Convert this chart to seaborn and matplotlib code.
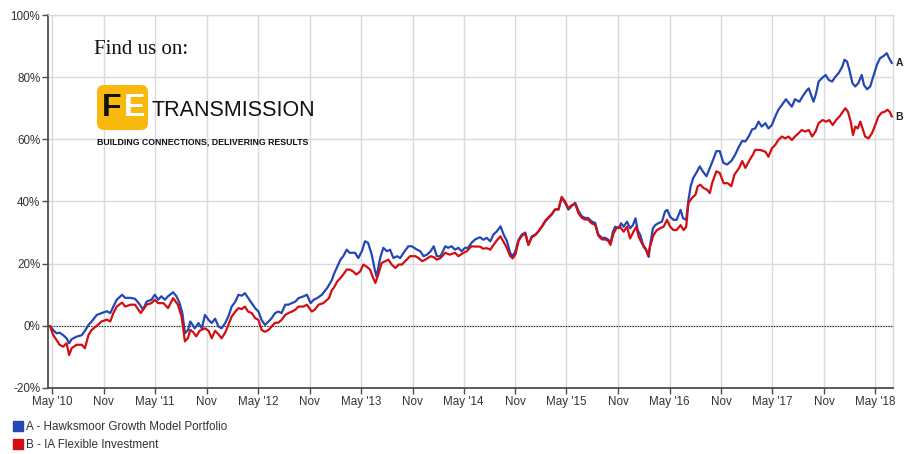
import matplotlib
matplotlib.use("Agg")
import numpy as np
import pandas as pd
import matplotlib.pyplot as plt
import matplotlib.dates as mdates
import seaborn as sns
from matplotlib.patches import FancyBboxPatch
from matplotlib.lines import Line2D
from matplotlib import font_manager as fm

# ---------------- data ----------------
dates_a = [
    "2010-04-24", "2010-05-05", "2010-05-17", "2010-05-28", "2010-06-10", "2010-06-22", "2010-07-01", "2010-07-10",
    "2010-07-27", "2010-08-15", "2010-08-26", "2010-09-08", "2010-09-19", "2010-10-07", "2010-10-24", "2010-11-12",
    "2010-11-24", "2010-12-05", "2010-12-17",
    "2011-01-05", "2011-01-16", "2011-02-04", "2011-02-20", "2011-03-09", "2011-03-20", "2011-04-02", "2011-04-19",
    "2011-05-01", "2011-05-13", "2011-05-24", "2011-06-06", "2011-06-17", "2011-07-05", "2011-07-17", "2011-07-28",
    "2011-08-07", "2011-08-16", "2011-08-27", "2011-09-04", "2011-09-20", "2011-10-03", "2011-10-15", "2011-10-26",
    "2011-11-08", "2011-11-19", "2011-12-01", "2011-12-13", "2011-12-24",
    "2012-01-06", "2012-01-17", "2012-01-29", "2012-02-11", "2012-02-22", "2012-03-05", "2012-03-16", "2012-03-27",
    "2012-04-09", "2012-04-21", "2012-05-03", "2012-05-14", "2012-05-26", "2012-06-08", "2012-06-19", "2012-07-01",
    "2012-07-12", "2012-07-24", "2012-08-06", "2012-08-17", "2012-08-30", "2012-09-11", "2012-09-22", "2012-10-10",
    "2012-10-22", "2012-11-04", "2012-11-15", "2012-11-27", "2012-12-14",
    "2013-01-02", "2013-01-19", "2013-01-25", "2013-02-07", "2013-02-18", "2013-02-28", "2013-03-12", "2013-03-23",
    "2013-04-11", "2013-04-22", "2013-05-05", "2013-05-16", "2013-05-27", "2013-06-09", "2013-06-21", "2013-06-26",
    "2013-07-09", "2013-07-20", "2013-08-02", "2013-08-13", "2013-08-25", "2013-09-07", "2013-09-18", "2013-09-30",
    "2013-10-17", "2013-10-29", "2013-11-17", "2013-11-28", "2013-12-10", "2013-12-22",
    "2014-01-04", "2014-01-15", "2014-01-26", "2014-02-08", "2014-02-25", "2014-03-07", "2014-03-19", "2014-04-01",
    "2014-04-12", "2014-04-24", "2014-05-06", "2014-05-17", "2014-05-29", "2014-06-11", "2014-06-28", "2014-07-10",
    "2014-07-22", "2014-08-04", "2014-08-15", "2014-08-27", "2014-09-09", "2014-09-20", "2014-10-02", "2014-10-13",
    "2014-10-22", "2014-11-01", "2014-11-12", "2014-11-24", "2014-12-06", "2014-12-17", "2014-12-29",
    "2015-01-11", "2015-01-22", "2015-02-04", "2015-02-15", "2015-02-26", "2015-03-10", "2015-03-21", "2015-04-03",
    "2015-04-14", "2015-04-26", "2015-05-08", "2015-05-19", "2015-06-01", "2015-06-13", "2015-06-24", "2015-07-06",
    "2015-07-17", "2015-07-29", "2015-08-11", "2015-08-22", "2015-09-04", "2015-09-16", "2015-09-27", "2015-10-04",
    "2015-10-13", "2015-10-21", "2015-11-03", "2015-11-11", "2015-11-20", "2015-12-02", "2015-12-13", "2015-12-23",
    "2016-01-01", "2016-01-09", "2016-01-18", "2016-01-30", "2016-02-12", "2016-02-17", "2016-02-23", "2016-03-03",
    "2016-03-11", "2016-03-22", "2016-04-04", "2016-04-15", "2016-04-23", "2016-05-03", "2016-05-15", "2016-05-26",
    "2016-06-09", "2016-06-18", "2016-06-29", "2016-07-07", "2016-07-15", "2016-07-24", "2016-08-04", "2016-08-16",
    "2016-08-27", "2016-09-09", "2016-09-21", "2016-10-03", "2016-10-14", "2016-10-26", "2016-11-08", "2016-11-21",
    "2016-12-06", "2016-12-20",
    "2017-01-03", "2017-01-14", "2017-01-25", "2017-02-07", "2017-02-18", "2017-03-01", "2017-03-13", "2017-03-24",
    "2017-04-06", "2017-04-17", "2017-04-29", "2017-05-11", "2017-05-22", "2017-06-04", "2017-06-18", "2017-06-29",
    "2017-07-09", "2017-07-20", "2017-08-05", "2017-08-16", "2017-08-28", "2017-09-07", "2017-09-17", "2017-09-24",
    "2017-10-03", "2017-10-12", "2017-10-24", "2017-11-06", "2017-11-17", "2017-11-29", "2017-12-11", "2017-12-22",
    "2018-01-04", "2018-01-12", "2018-01-21", "2018-01-29", "2018-02-09", "2018-02-19", "2018-03-02", "2018-03-14",
    "2018-03-22", "2018-04-02", "2018-04-13", "2018-04-24", "2018-05-07", "2018-05-18", "2018-05-29", "2018-06-11",
    "2018-06-19", "2018-06-29",
]
values_a = [
    0.0, -1.3, -2.4, -2.2, -3.0, -4.0, -5.6, -4.3,
    -3.5, -3.0, -1.6, 0.3, 1.4, 3.5, 4.1, 4.7,
    4.1, 6.2, 8.4,
    10.0, 9.0, 9.0, 8.7, 6.8, 5.2, 7.8, 8.4,
    10.0, 8.4, 9.5, 8.4, 9.5, 10.8, 9.5, 7.3,
    4.0, -2.4, -1.3, 1.4, -0.8, 0.9, -0.8, 3.5,
    1.9, 0.9, 2.3, -0.2, -0.8,
    0.9, 3.0, 6.2, 7.8, 10.0, 9.7, 10.5, 9.0,
    7.3, 5.7, 4.6, 1.9, 0.3, 1.4, 2.5, 4.1,
    4.6, 4.1, 6.8, 6.8, 7.3, 7.8, 8.9, 9.5,
    10.0, 7.3, 8.4, 8.9, 10.0,
    12.2, 14.8, 16.5, 19.1, 21.3, 22.4, 24.5, 23.5,
    23.5, 21.8, 24.0, 27.2, 26.7, 22.9, 17.5, 15.9,
    21.8, 25.1, 24.0, 24.5, 21.8, 22.4, 21.8, 23.5,
    25.6, 25.6, 24.5, 24.0, 22.4, 22.9,
    24.0, 25.6, 22.4, 22.4, 25.6, 25.1, 25.6, 24.5,
    25.1, 24.0, 25.1, 25.1, 26.7, 27.8, 28.5, 27.7,
    28.3, 27.2, 29.4, 30.4, 32.0, 29.4, 27.2, 23.5,
    22.4, 24.0, 27.7, 29.4, 30.0, 26.1, 28.8,
    29.4, 30.4, 32.0, 33.6, 34.7, 35.8, 37.4, 37.4,
    41.2, 39.6, 37.4, 38.5, 39.6, 36.9, 35.3, 34.7,
    34.7, 33.6, 33.1, 29.4, 28.3, 28.3, 27.7, 26.5,
    30.3, 31.9, 31.4, 33.0, 31.9, 33.5, 31.4, 32.4,
    34.6, 30.8, 29.2, 25.4, 23.8, 22.2, 26.5, 31.4,
    32.4, 33.0, 33.5, 36.8, 37.3, 35.1, 34.1, 34.1,
    37.3, 34.6, 34.1, 40.5, 44.9, 47.6, 49.2, 51.3,
    49.7, 48.1, 50.8, 53.5, 56.2, 56.2, 52.4, 51.9,
    53.0, 55.1,
    57.8, 59.5, 59.3, 61.1, 63.2, 63.5, 65.7, 64.1,
    65.2, 63.5, 64.6, 67.3, 69.5, 71.1, 72.9, 71.6,
    70.5, 72.9, 72.1, 73.8, 75.4, 76.4, 73.8, 72.1,
    74.8, 78.6, 79.7, 80.7, 79.1, 78.6, 80.2, 81.3,
    83.4, 85.6, 85.0, 82.4, 78.1, 77.0, 78.1, 80.7,
    77.5, 76.1, 77.0, 80.2, 84.0, 86.1, 86.7, 87.7,
    86.1, 84.5,
]

dates_b = [
    "2010-04-24", "2010-05-05", "2010-05-17", "2010-05-28", "2010-06-10", "2010-06-22", "2010-07-01", "2010-07-10",
    "2010-07-27", "2010-08-15", "2010-08-26", "2010-09-08", "2010-09-19", "2010-10-07", "2010-10-24", "2010-11-12",
    "2010-11-24", "2010-12-05", "2010-12-17",
    "2011-01-05", "2011-01-16", "2011-02-04", "2011-02-20", "2011-03-12", "2011-04-02", "2011-04-19", "2011-05-01",
    "2011-05-13", "2011-06-01", "2011-06-17", "2011-07-05", "2011-07-22", "2011-08-04", "2011-08-16", "2011-08-27",
    "2011-09-04", "2011-09-14", "2011-09-25", "2011-10-07", "2011-10-26", "2011-11-08", "2011-11-19", "2011-12-01",
    "2011-12-13", "2011-12-24",
    "2012-01-06", "2012-01-17", "2012-01-29", "2012-02-11", "2012-02-22", "2012-03-05", "2012-03-16", "2012-03-27",
    "2012-04-09", "2012-04-21", "2012-05-03", "2012-05-14", "2012-05-26", "2012-06-08", "2012-06-19", "2012-07-01",
    "2012-07-12", "2012-07-24", "2012-08-06", "2012-08-17", "2012-08-30", "2012-09-11", "2012-09-22", "2012-10-10",
    "2012-10-22", "2012-11-08", "2012-11-19", "2012-12-02", "2012-12-19",
    "2013-01-08", "2013-01-19", "2013-01-25", "2013-02-07", "2013-02-18", "2013-02-28", "2013-03-12", "2013-03-23",
    "2013-04-04", "2013-04-15", "2013-04-29", "2013-05-10", "2013-05-21", "2013-06-03", "2013-06-14", "2013-06-22",
    "2013-07-02", "2013-07-14", "2013-07-27", "2013-08-07", "2013-08-19", "2013-09-01", "2013-09-12", "2013-09-24",
    "2013-10-06", "2013-10-23", "2013-11-11", "2013-11-22", "2013-12-05", "2013-12-16",
    "2014-01-04", "2014-01-15", "2014-01-26", "2014-02-08", "2014-02-25", "2014-03-13", "2014-04-01", "2014-04-12",
    "2014-05-01", "2014-05-12", "2014-05-29", "2014-06-11", "2014-06-28", "2014-07-10", "2014-07-22", "2014-08-04",
    "2014-08-15", "2014-08-27", "2014-09-09", "2014-09-20", "2014-10-02", "2014-10-13", "2014-10-22", "2014-11-01",
    "2014-11-12", "2014-11-24", "2014-12-06", "2014-12-17", "2014-12-29",
    "2015-01-11", "2015-01-22", "2015-02-04", "2015-02-15", "2015-02-26", "2015-03-10", "2015-03-21", "2015-04-03",
    "2015-04-14", "2015-04-26", "2015-05-08", "2015-05-19", "2015-06-01", "2015-06-13", "2015-06-24", "2015-07-06",
    "2015-07-17", "2015-07-29", "2015-08-11", "2015-08-22", "2015-09-04", "2015-09-16", "2015-09-27", "2015-10-04",
    "2015-10-15", "2015-10-25", "2015-11-07", "2015-11-20", "2015-12-02", "2015-12-13", "2015-12-25",
    "2016-01-04", "2016-01-12", "2016-01-24", "2016-02-06", "2016-02-14", "2016-02-23", "2016-03-05", "2016-03-17",
    "2016-03-29", "2016-04-10", "2016-04-22", "2016-05-03", "2016-05-15", "2016-05-26", "2016-06-09", "2016-06-20",
    "2016-06-29", "2016-07-07", "2016-07-19", "2016-08-01", "2016-08-09", "2016-08-18", "2016-08-30", "2016-09-11",
    "2016-09-21", "2016-09-29", "2016-10-14", "2016-10-26", "2016-11-09", "2016-11-23", "2016-12-06", "2016-12-17",
    "2017-01-03", "2017-01-14", "2017-01-25", "2017-02-10", "2017-02-21", "2017-03-01", "2017-03-18", "2017-04-06",
    "2017-04-17", "2017-04-29", "2017-05-11", "2017-05-22", "2017-06-04", "2017-06-15", "2017-06-27", "2017-07-09",
    "2017-07-20", "2017-08-01", "2017-08-13", "2017-08-25", "2017-09-07", "2017-09-19", "2017-10-01", "2017-10-12",
    "2017-10-26", "2017-11-08", "2017-11-19", "2017-12-01", "2017-12-13", "2017-12-25",
    "2018-01-06", "2018-01-15", "2018-01-24", "2018-02-03", "2018-02-11", "2018-02-19", "2018-02-28", "2018-03-09",
    "2018-03-17", "2018-03-26", "2018-04-07", "2018-04-19", "2018-05-01", "2018-05-12", "2018-05-24", "2018-06-04",
    "2018-06-13", "2018-06-21", "2018-06-29",
]
values_b = [
    0.0, -2.9, -4.5, -6.1, -6.7, -5.6, -9.4, -7.2,
    -6.1, -6.1, -7.2, -2.9, -1.3, 0.0, 1.4, 2.0,
    1.4, 4.1, 6.2,
    7.5, 6.2, 6.8, 6.8, 4.1, 6.8, 7.3, 8.4,
    7.3, 7.3, 5.7, 8.9, 6.8, 3.0, -5.0, -3.9,
    -1.3, -2.0, -3.4, -1.6, -0.8, -1.6, -4.0, -1.6,
    -2.7, -4.0,
    -2.2, 0.3, 3.0, 4.6, 5.7, 5.4, 6.2, 4.6,
    4.1, 2.5, 1.9, -1.3, -1.9, -1.3, -0.2, 1.0,
    1.0, 1.9, 3.5, 4.1, 4.6, 5.2, 6.2, 6.2,
    6.8, 4.6, 5.2, 6.8, 7.3,
    8.9, 11.6, 12.2, 14.3, 15.4, 16.5, 18.1, 18.1,
    17.5, 16.5, 17.5, 19.7, 19.1, 18.1, 15.4, 13.8,
    16.5, 20.2, 20.8, 21.3, 19.7, 18.6, 19.7, 19.7,
    20.8, 22.4, 22.4, 21.8, 20.8, 21.3,
    22.4, 22.1, 21.3, 21.8, 23.5, 22.9, 23.5, 22.4,
    23.5, 24.0, 25.6, 25.5, 25.5, 24.8, 25.0, 24.5,
    26.0, 27.5, 28.8, 27.0, 25.0, 22.5, 21.7, 23.0,
    27.3, 29.0, 29.6, 26.0, 28.5,
    29.2, 30.5, 32.2, 33.8, 34.9, 36.0, 37.4, 37.6,
    41.5, 40.0, 37.8, 38.8, 39.2, 36.2, 34.8, 34.2,
    34.2, 33.0, 32.5, 29.0, 27.8, 27.8, 27.3, 26.0,
    29.7, 31.4, 31.9, 30.3, 31.9, 28.1, 30.3,
    31.9, 28.7, 26.5, 24.9, 22.7, 26.0, 29.2, 30.8,
    31.4, 31.9, 34.1, 31.9, 30.8, 30.8, 32.4, 30.8,
    31.9, 39.5, 41.1, 42.2, 44.9, 45.4, 44.3, 43.8,
    42.7, 45.9, 49.7, 49.2, 45.9, 45.9, 44.9, 48.6,
    50.8, 53.0, 50.8, 53.5, 55.1, 56.6, 56.6, 56.0,
    54.4, 57.1, 58.2, 59.8, 60.9, 60.3, 60.9, 59.8,
    60.9, 61.9, 63.0, 62.5, 63.0, 60.9, 62.5, 65.2,
    66.2, 65.7, 66.2, 64.6, 66.2, 67.3,
    68.9, 70.0, 68.9, 65.7, 61.4, 64.1, 63.5, 65.7,
    63.5, 60.9, 60.3, 61.9, 64.6, 67.3, 68.6, 68.9,
    69.5, 68.9, 67.3,
]

series_names = ["A", "B"]
legend_labels = ["A - Hawksmoor Growth Model Portfolio", "B - IA Flexible Investment"]
y_ticks = [-20, 0, 20, 40, 60, 80, 100]

# ---------------- style ----------------
BLUE = "#2447b5"
RED = "#d40d12"
GRID = "#d9d9d9"
AXIS = "#4d4d4d"
TXT = "#333333"

sns.set_style("white")
plt.rcParams["font.family"] = ["Liberation Sans", "DejaVu Sans"]


def has_font(name):
    try:
        fm.findfont(fm.FontProperties(family=name), fallback_to_default=False)
        return True
    except Exception:
        return False


NARROW = "Liberation Sans Narrow" if has_font("Liberation Sans Narrow") else "Liberation Sans"
narrow_ok = NARROW == "Liberation Sans Narrow"

df = pd.concat([
    pd.DataFrame({"date": pd.to_datetime(dates_a), "value": values_a, "series": series_names[0]}),
    pd.DataFrame({"date": pd.to_datetime(dates_b), "value": values_b, "series": series_names[1]}),
], ignore_index=True)

W, H = 906, 454
fig = plt.figure(figsize=(W / 100, H / 100), dpi=100)
ax = fig.add_axes([48 / W, 1 - 388 / H, (893 - 48) / W, (388 - 15) / H])

sns.lineplot(data=df, x="date", y="value", hue="series",
             palette={"A": BLUE, "B": RED}, estimator=None, sort=True,
             linewidth=1.6, legend=False, ax=ax, zorder=3)

ax.axhline(0, color="#222222", lw=0.8, ls=(0, (1.2, 1.2)), zorder=2)

ax.set_xlim(pd.Timestamp("2010-04-17"), pd.Timestamp("2018-07-03"))
ax.set_ylim(-20, 100)
ax.set_yticks(y_ticks)
ax.set_yticklabels([f"{v}%" for v in y_ticks])

tick_dates = [pd.Timestamp(f"{y}-{m:02d}-01") for y in range(2010, 2019) for m in (5, 11)
              if pd.Timestamp(f"{y}-{m:02d}-01") <= pd.Timestamp("2018-07-01")]
ax.set_xticks(tick_dates)
ax.set_xticklabels([f"May '{d.year % 100:02d}" if d.month == 5 else "Nov" for d in tick_dates])

ax.grid(True, color=GRID, lw=1.0, zorder=0)
ax.set_axisbelow(True)
ax.set_xlabel("")
ax.set_ylabel("")
for side in ("top", "right"):
    ax.spines[side].set_color(GRID)
    ax.spines[side].set_linewidth(1.0)
for side in ("left", "bottom"):
    ax.spines[side].set_color(AXIS)
    ax.spines[side].set_linewidth(1.3)
ax.tick_params(axis="both", which="both", length=4, width=1, color=AXIS,
               labelsize=8.4, labelcolor=TXT, pad=1.5, direction="out")
ax.tick_params(axis="x", bottom=True)
ax.tick_params(axis="y", left=True)

# end labels A / B
ax.annotate("A", xy=(pd.Timestamp(dates_a[-1]), values_a[-1]), xytext=(2.5, 0),
            textcoords="offset points", va="center", ha="left",
            fontsize=7.5, fontweight="bold", color="#222222", annotation_clip=False)
ax.annotate("B", xy=(pd.Timestamp(dates_b[-1]), values_b[-1]), xytext=(2.5, 0),
            textcoords="offset points", va="center", ha="left",
            fontsize=7.5, fontweight="bold", color="#222222", annotation_clip=False)

# legend
handles = [Line2D([], [], marker="s", linestyle="none", markersize=7, color=c) for c in (BLUE, RED)]
fig.legend(handles, legend_labels, loc="lower left", bbox_to_anchor=(0.004, -0.012),
           frameon=False, fontsize=8.4, handletextpad=0.2, labelspacing=0.5,
           handlelength=1.0, borderaxespad=0.3, labelcolor=TXT)

# overlay in pixel coordinates for the "Find us on" logo
ov = fig.add_axes([0, 0, 1, 1], zorder=5)
ov.set_xlim(0, W)
ov.set_ylim(H, 0)
ov.axis("off")
ov.patch.set_alpha(0)

ov.text(94, 50, "Find us on:", family=["Liberation Serif", "DejaVu Serif"], fontsize=15,
        color="#111111", va="center", ha="left")
ov.add_patch(FancyBboxPatch((97, 85), 51, 45, boxstyle="round,pad=0,rounding_size=7",
                            fc="#f8b80e", ec="none"))
ov.text(102, 108, "F", family=NARROW, fontweight="bold", fontsize=26 if narrow_ok else 23,
        color="#111111", va="center", ha="left")
ov.text(124, 108, "E", family=NARROW, fontweight="bold", fontsize=26 if narrow_ok else 23,
        color="white", va="center", ha="left")
ov.text(152, 111, "TRANSMISSION", family=NARROW, fontsize=19 if narrow_ok else 15.5,
        color="#111111", va="center", ha="left")
ov.text(97, 142, "BUILDING CONNECTIONS, DELIVERING RESULTS", family=NARROW, fontweight="bold",
        fontsize=7.0 if narrow_ok else 6.3, color="#111111", va="center", ha="left")

fig.savefig("out.png", dpi=100)
